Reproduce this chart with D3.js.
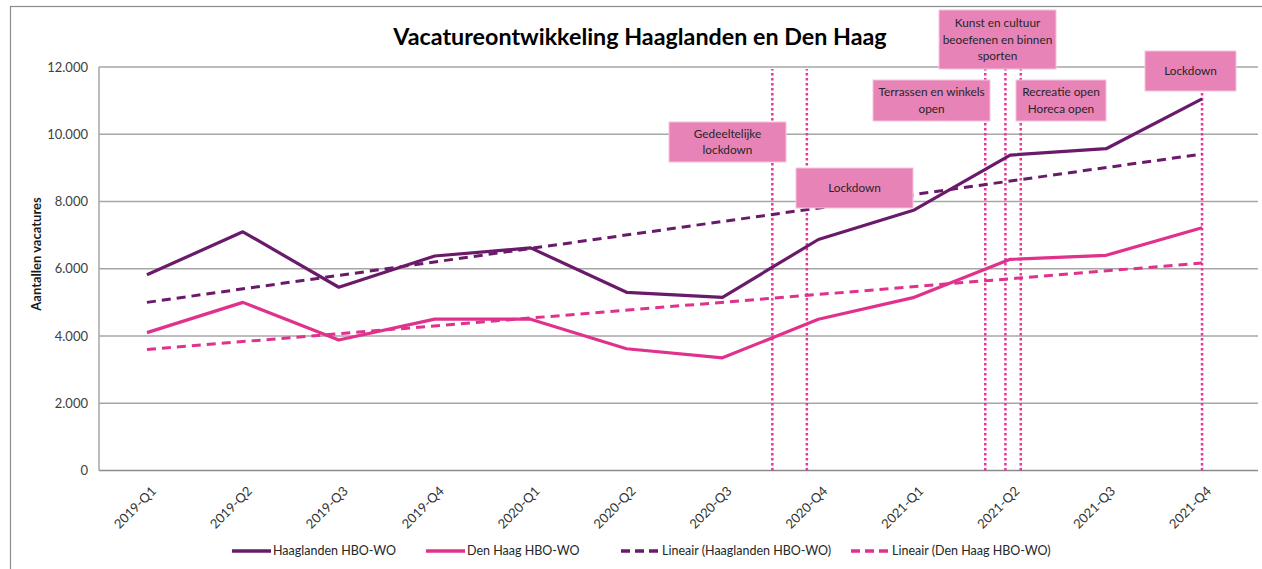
<!DOCTYPE html>
<html>
<head>
<meta charset="utf-8">
<script src="https://cdn.jsdelivr.net/npm/d3@7"></script>
<style>
  body { margin: 0; background: #fff; }
  svg text { font-family: Lato, "Open Sans", sans-serif; }
</style>
</head>
<body>
<div id="d3-container"></div>
<script>
/**
 * CONSTANTS AND GLOBALS
 * */
const width = 1262,
  height = 569,
  margin = { top: 67, bottom: 98, left: 99, right: 12 };

// quarters on the x axis
const quarters = ["2019-Q1", "2019-Q2", "2019-Q3", "2019-Q4",
  "2020-Q1", "2020-Q2", "2020-Q3", "2020-Q4",
  "2021-Q1", "2021-Q2", "2021-Q3", "2021-Q4"];

// vacancies per quarter
const haaglanden = [5820, 7100, 5450, 6380, 6620, 5300, 5150, 6870, 7750, 9380, 9570, 11050];
const denHaag = [4100, 5000, 3880, 4500, 4500, 3620, 3350, 4500, 5150, 6280, 6400, 7220];

// linear trend lines (start and end value)
const trendHaaglanden = [5000, 9410];
const trendDenHaag = [3600, 6170];

const yTicks = [0, 2000, 4000, 6000, 8000, 10000, 12000];

// events: position in quarters (0 = 2019-Q1) and their label
const eventPos = [6.52, 6.88, 8.74, 8.95, 9.11, 11.0];
const eventLabels = [
  ["Gedeeltelijke", "lockdown"],
  ["Lockdown"],
  ["Terrassen en winkels", "open"],
  ["Kunst en cultuur", "beoefenen en binnen", "sporten"],
  ["Recreatie open", "Horeca open"],
  ["Lockdown"]
];
// where the label boxes sit (pixels)
const boxLayout = [
  { x: 669, y: 122, w: 117, h: 40 },
  { x: 796, y: 168, w: 117, h: 40 },
  { x: 873, y: 80, w: 117, h: 41 },
  { x: 939, y: 10, w: 117, h: 59 },
  { x: 1016, y: 80, w: 90, h: 41 },
  { x: 1145, y: 51, w: 91, h: 40 }
];

const colHaag = "#6a1a6b",
  colDen = "#e0318d",
  colEvent = "#e8369a",
  colBox = "#e883b8";

const nl = d3.formatLocale({ decimal: ",", thousands: ".", grouping: [3], currency: ["€", ""] });
const fmt = nl.format(",.0f");

const svg = d3.select("#d3-container")
  .append("svg")
  .attr("width", width)
  .attr("height", height);

// chart border (only left and top visible in the picture)
svg.append("rect")
  .attr("x", 10.5).attr("y", 6.5)
  .attr("width", 1300).attr("height", 600)
  .attr("fill", "none")
  .attr("stroke", "#8c8c8c")
  .attr("stroke-width", 1.2);

const xScale = d3.scalePoint()
  .domain(quarters)
  .range([margin.left, width - margin.right])
  .padding(0.5);

// fractional quarter positions
const xPos = d3.scaleLinear()
  .domain([0, quarters.length - 1])
  .range([xScale(quarters[0]), xScale(quarters[quarters.length - 1])]);

const yScale = d3.scaleLinear()
  .domain([0, 12000])
  .range([height - margin.bottom - 0.5, margin.top]);

// gridlines
svg.append("g")
  .selectAll("line")
  .data(yTicks)
  .join("line")
  .attr("x1", margin.left)
  .attr("x2", width - margin.right + 8)
  .attr("y1", d => yScale(d))
  .attr("y2", d => yScale(d))
  .attr("stroke", d => d === 0 ? "#8a8a8a" : "#a6a6a6")
  .attr("stroke-width", 1.5);

// y axis line
svg.append("line")
  .attr("x1", margin.left).attr("x2", margin.left)
  .attr("y1", yScale(0)).attr("y2", yScale(12000))
  .attr("stroke", "#a6a6a6")
  .attr("stroke-width", 1.5);

// y tick labels
svg.append("g")
  .selectAll("text")
  .data(yTicks)
  .join("text")
  .attr("x", 88)
  .attr("y", d => yScale(d))
  .attr("dy", "0.35em")
  .attr("text-anchor", "end")
  .attr("font-size", 13)
  .attr("fill", "#404040")
  .text(d => fmt(d));

// y axis title
svg.append("text")
  .attr("transform", "translate(41,254) rotate(-90)")
  .attr("text-anchor", "middle")
  .attr("font-size", 13)
  .attr("font-weight", "bold")
  .attr("fill", "#1a1a1a")
  .text("Aantallen vacatures");

// x tick labels
svg.append("g")
  .selectAll("text")
  .data(quarters)
  .join("text")
  .attr("transform", d => `translate(${xScale(d) + 10},${492}) rotate(-45)`)
  .attr("text-anchor", "end")
  .attr("font-size", 13)
  .attr("fill", "#333")
  .text(d => d);

// title
svg.append("text")
  .attr("x", 640)
  .attr("y", 45)
  .attr("text-anchor", "middle")
  .attr("font-size", 23.3)
  .attr("font-weight", "bold")
  .attr("fill", "#000")
  .text("Vacatureontwikkeling Haaglanden en Den Haag");

// event lines (dotted)
svg.append("g")
  .selectAll("line")
  .data(eventPos)
  .join("line")
  .attr("x1", d => xPos(d))
  .attr("x2", d => xPos(d))
  .attr("y1", yScale(0))
  .attr("y2", 69)
  .attr("stroke", colEvent)
  .attr("stroke-width", 2.5)
  .attr("stroke-dasharray", "2.5,2.5");

// series lines
const line = d3.line()
  .x((d, i) => xScale(quarters[i]))
  .y(d => yScale(d));

const trendLine = d3.line()
  .x((d, i) => xPos(i * (quarters.length - 1)))
  .y(d => yScale(d));

svg.append("path")
  .attr("d", trendLine(trendHaaglanden))
  .attr("fill", "none").attr("stroke", colHaag)
  .attr("stroke-width", 3).attr("stroke-dasharray", "9,6");

svg.append("path")
  .attr("d", trendLine(trendDenHaag))
  .attr("fill", "none").attr("stroke", colDen)
  .attr("stroke-width", 3).attr("stroke-dasharray", "9,6");

svg.append("path")
  .attr("d", line(haaglanden))
  .attr("fill", "none").attr("stroke", colHaag)
  .attr("stroke-width", 3.2).attr("stroke-linejoin", "round");

svg.append("path")
  .attr("d", line(denHaag))
  .attr("fill", "none").attr("stroke", colDen)
  .attr("stroke-width", 3.2).attr("stroke-linejoin", "round");

// event label boxes
const boxes = svg.append("g")
  .selectAll("g")
  .data(eventLabels)
  .join("g")
  .attr("transform", (d, i) => `translate(${boxLayout[i].x},${boxLayout[i].y})`);

boxes.append("rect")
  .attr("width", (d, i) => boxLayout[i].w)
  .attr("height", (d, i) => boxLayout[i].h)
  .attr("fill", colBox)
  .attr("stroke", "#f4c4dc")
  .attr("stroke-width", 1);

boxes.each(function (lines, i) {
  const b = boxLayout[i];
  const lh = 16.5;
  const y0 = b.h / 2 - (lines.length - 1) * lh / 2;
  d3.select(this).selectAll("text")
    .data(lines)
    .join("text")
    .attr("x", b.w / 2)
    .attr("y", (d, j) => y0 + j * lh)
    .attr("dy", "0.35em")
    .attr("text-anchor", "middle")
    .attr("font-size", 11.8)
    .attr("fill", "#262626")
    .text(d => d);
});

// legend
const legendItems = [
  { label: "Haaglanden HBO-WO", color: colHaag, dash: null, x: 232 },
  { label: "Den Haag HBO-WO", color: colDen, dash: null, x: 426 },
  { label: "Lineair (Haaglanden HBO-WO)", color: colHaag, dash: "9,5", x: 621 },
  { label: "Lineair (Den Haag HBO-WO)", color: colDen, dash: "9,5", x: 851 }
];

const legend = svg.append("g")
  .selectAll("g")
  .data(legendItems)
  .join("g")
  .attr("transform", d => `translate(${d.x},551)`);

legend.append("line")
  .attr("x1", 0).attr("x2", 39)
  .attr("stroke", d => d.color)
  .attr("stroke-width", 3.5)
  .attr("stroke-dasharray", d => d.dash);

legend.append("text")
  .attr("x", 41)
  .attr("dy", "0.35em")
  .attr("font-size", 12.5)
  .attr("fill", "#262626")
  .text(d => d.label);
</script>
</body>
</html>
